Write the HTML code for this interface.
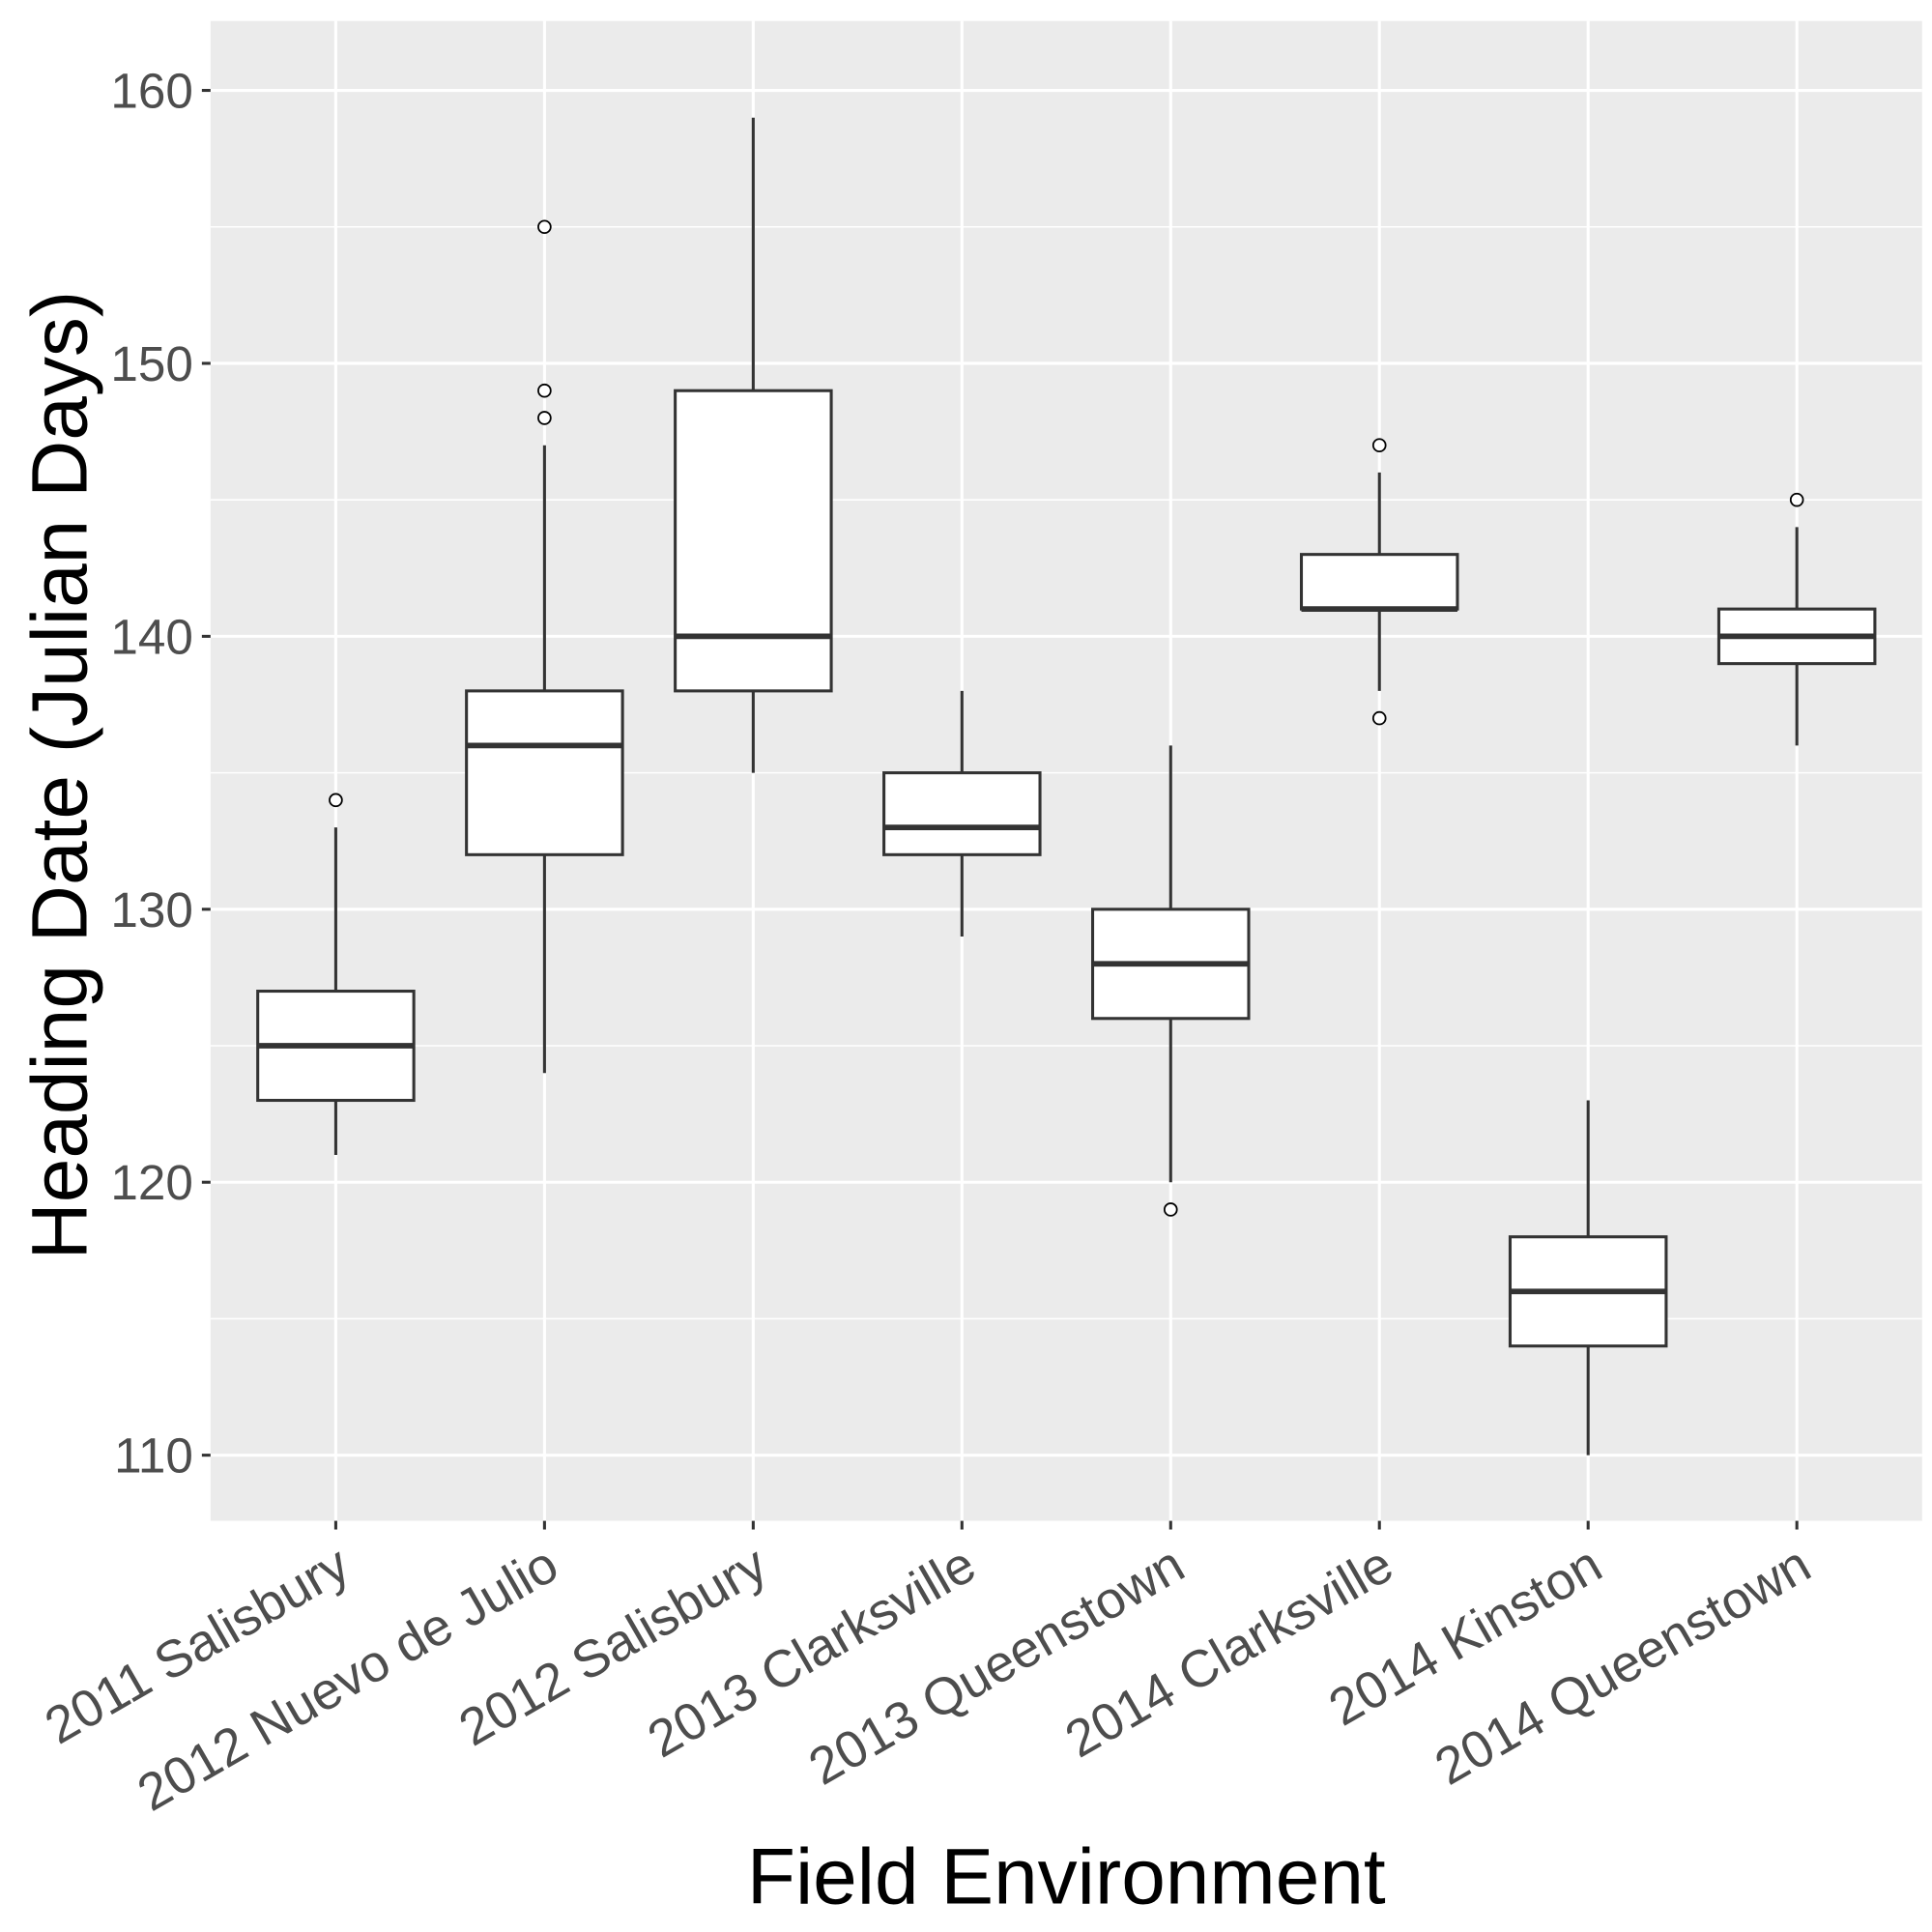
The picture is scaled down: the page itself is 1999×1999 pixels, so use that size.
<!DOCTYPE html>
<html><head><meta charset="utf-8"><style>
html,body{margin:0;padding:0;background:#fff;}
svg{display:block;font-family:"Liberation Sans",Arial,sans-serif;}
</style></head><body>
<svg id="chart" width="1999" height="1999" viewBox="0 0 1560 1560" xmlns="http://www.w3.org/2000/svg">
<rect x="170" y="17" width="1382" height="1211" fill="#ebebeb"/>
<g id="grid"></g><g id="boxes"></g><g id="axes"></g>
<text x="861" y="1537" font-size="64" text-anchor="middle" fill="#000">Field Environment</text>
<text transform="translate(70,626) rotate(-90)" font-size="64" text-anchor="middle" fill="#000">Heading Date (Julian Days)</text>
</svg>
<script>
const categories = ["2011 Salisbury","2012 Nuevo de Julio","2012 Salisbury","2013 Clarksville","2013 Queenstown","2014 Clarksville","2014 Kinston","2014 Queenstown"];
const lowWhisker = [121,124,135,129,120,138,110,136];
const q1 = [123,132,138,132,126,141,114,139];
const medians = [125,136,140,133,128,141,116,140];
const q3 = [127,138,149,135,130,143,118,141];
const highWhisker = [133,147,159,138,136,146,123,144];
const outliers = [[134],[148,149,155],[],[],[119],[137,147],[],[145]];
const yTicks = [110,120,130,140,150,160];
const yMinor = [115,125,135,145,155];

const NS="http://www.w3.org/2000/svg";
const px0=170, px1=1552, py0=17, py1=1228;
function y(v){return 1175 + (v-110)*(73-1175)/50;}
function x(i){const step=(px1-px0)/(categories.length+0.2); return px0+step*0.6+i*step;}
function mk(tag,attrs,parent){const e=document.createElementNS(NS,tag);for(const k in attrs)e.setAttribute(k,attrs[k]);parent.appendChild(e);return e;}
const grid=document.getElementById('grid'), boxes=document.getElementById('boxes'), axes=document.getElementById('axes');
yMinor.forEach(v=>{const l=mk('line',{x1:px0,x2:px1,y1:y(v),y2:y(v),stroke:'#fff','stroke-width':1.2},grid);

});
yTicks.forEach(v=>{const l=mk('line',{x1:px0,x2:px1,y1:y(v),y2:y(v),stroke:'#fff','stroke-width':2.4},grid);


const t=mk('line',{x1:px0-7,x2:px0,y1:y(v),y2:y(v),stroke:'#333','stroke-width':2.4},axes);


const tx=mk('text',{x:px0-14,y:y(v)+14,'font-size':40,'text-anchor':'end',fill:'#4d4d4d'},axes);tx.textContent=v;

});
const hw=63;
categories.forEach((c,i)=>{const cx=x(i);
const g=mk('line',{x1:cx,x2:cx,y1:py0,y2:py1,stroke:'#fff','stroke-width':2.4},grid);


const grp=mk('g',{},boxes);


mk('line',{x1:cx,x2:cx,y1:y(highWhisker[i]),y2:y(q3[i]),stroke:'#333','stroke-width':2.4},grp);
mk('line',{x1:cx,x2:cx,y1:y(q1[i]),y2:y(lowWhisker[i]),stroke:'#333','stroke-width':2.4},grp);
mk('rect',{x:cx-hw,y:y(q3[i]),width:2*hw,height:y(q1[i])-y(q3[i]),fill:'#fff',stroke:'#333','stroke-width':2.4},grp);
mk('line',{x1:cx-hw,x2:cx+hw,y1:y(medians[i]),y2:y(medians[i]),stroke:'#333','stroke-width':4.5},grp);
outliers[i].forEach(o=>{const p=mk('circle',{cx:cx,cy:y(o),r:5,fill:'#fff',stroke:'#000','stroke-width':1.4},grp);

});
const t=mk('line',{x1:cx,x2:cx,y1:py1,y2:py1+7,stroke:'#333','stroke-width':2.4},axes);


const tx=mk('text',{transform:`translate(${cx+14},${py1+44}) rotate(-30)`,'font-size':42,'text-anchor':'end',fill:'#4d4d4d'},axes);tx.textContent=c;


});
</script>
</body></html>
